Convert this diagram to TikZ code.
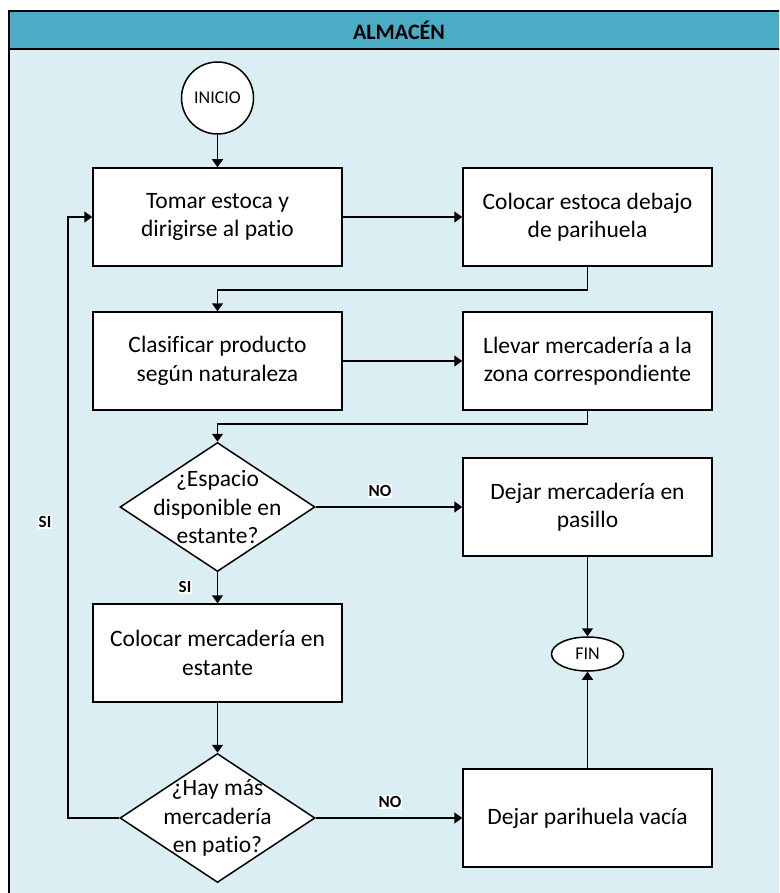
\documentclass[tikz,border=0pt]{standalone}
\usepackage{fontspec}
\setmainfont[Ligatures=NoCommon]{Carlito}
\usetikzlibrary{shapes.geometric,arrows.meta}
\definecolor{headblue}{HTML}{4BACC6}
\definecolor{laneblue}{HTML}{DAEEF3}
\begin{document}
\begin{tikzpicture}[x=1pt,y=-1pt,
  every node/.style={font=\fontsize{23.5}{28.5}\selectfont},
  procbox/.style={draw,line width=1.5pt,fill=white,minimum width=249pt,minimum height=98pt,align=center,inner sep=2pt},
  decision/.style={draw,line width=1.5pt,fill=white,diamond,minimum width=195pt,minimum height=129pt,inner sep=0pt},
  dtext/.style={align=center,inner sep=0pt},
  flowline/.style={line width=1.5pt,-{Triangle[length=8pt,width=11pt]}},
  tag/.style={fill=white,inner sep=1pt,font=\fontsize{17}{20}\selectfont\bfseries}]
\useasboundingbox (0,0) rectangle (779,893);
\clip (0,0) rectangle (779,893);
% swimlane
\fill[white] (0,0) rectangle (779,893);
\draw[line width=1.5pt,fill=laneblue] (9,49) rectangle (789,920);
\draw[line width=1.5pt,fill=headblue] (9,11) rectangle (789,49);
\node[font=\fontsize{22}{26}\selectfont\bfseries] (title) at (399,30) {ALMACÉN};
% terminals
\node[draw,line width=1.5pt,fill=white,circle,minimum size=72pt,inner sep=0pt,font=\fontsize{18}{22}\selectfont] (inicio) at (217.5,98) {INICIO};
\node[draw,line width=1.5pt,fill=white,ellipse,minimum width=72pt,minimum height=34pt,inner sep=0pt,font=\fontsize{18}{22}\selectfont] (fin) at (587.5,654) {FIN};
% process steps
\node[procbox] (b1) at (217.5,217) {Tomar estoca y\\dirigirse al patio};
\node[procbox] (b2) at (587.5,217) {Colocar estoca debajo\\de parihuela};
\node[procbox] (b3) at (217.5,361) {Clasificar producto\\según naturaleza};
\node[procbox] (b4) at (587.5,361) {Llevar mercadería a la\\zona correspondiente};
\node[procbox] (b5) at (587.5,507) {Dejar mercadería en\\pasillo};
\node[procbox] (b6) at (217.5,653) {Colocar mercadería en\\estante};
\node[procbox] (b7) at (587.5,818) {Dejar parihuela vacía};
% decisions
\node[decision] (d1) at (217.5,507) {};
\node[dtext] (d1t) at (d1.center) {¿Espacio\\disponible en\\estante?};
\node[decision] (d2) at (217.5,818) {};
\node[dtext] (d2t) at (d2.center) {¿Hay más\\mercadería\\en patio?};
% connectors
\coordinate (loop) at (68,818);
\draw[flowline] (inicio) -- (b1);
\draw[flowline] (b1) -- (b2);
\draw[flowline] (b2.south) -- ++(0,23) -| (b3.north);
\draw[flowline] (b3) -- (b4);
\draw[flowline] (b4.south) -- ++(0,13) -| (d1.north);
\draw[flowline] (d1.east) -- (b5.west);
\draw[flowline] (d1.south) -- (b6.north);
\draw[flowline] (b6.south) -- (d2.north);
\draw[flowline] (d2.east) -- (b7.west);
\draw[flowline] (d2.west) -- (loop) |- (b1.west);
\draw[flowline] (b5.south) -- (fin.north);
\draw[flowline] (b7.north) -- (fin.south);
% branch labels
\node[tag] (no1) at (380,491) {NO};
\node[tag] (si1) at (185,587) {SI};
\node[tag] (no2) at (390,802) {NO};
\node[tag] (si2) at (45,522) {SI};
\end{tikzpicture}
\end{document}
